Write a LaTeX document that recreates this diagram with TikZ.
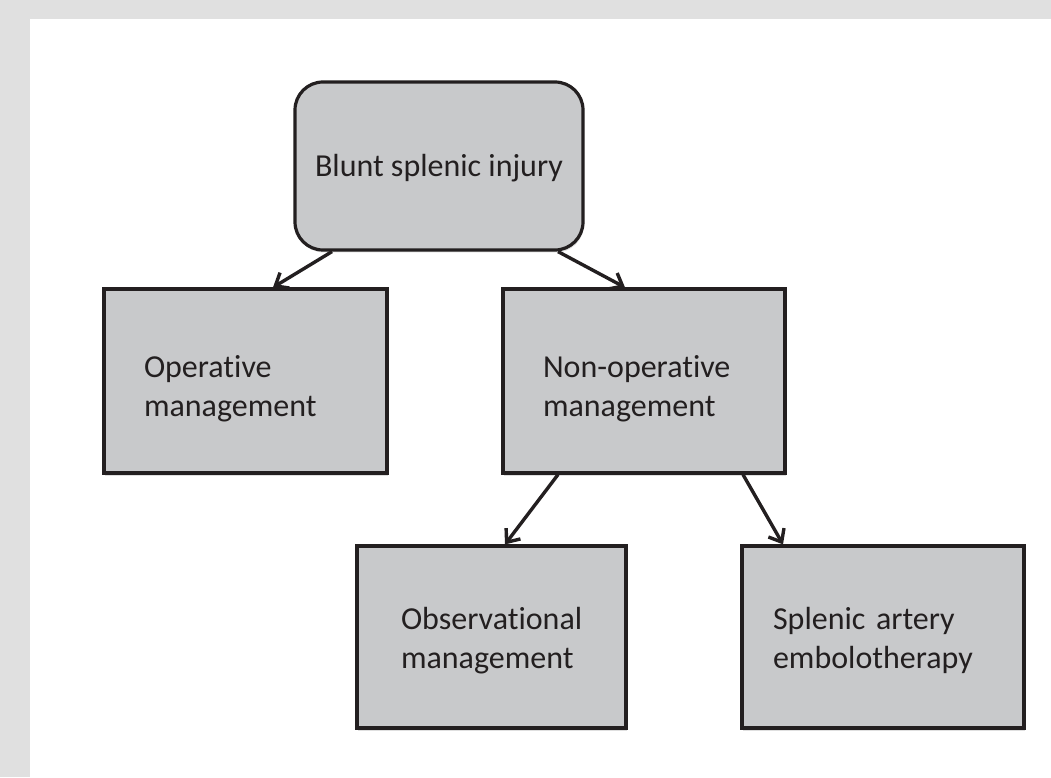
\documentclass[tikz,border=0pt]{standalone}
\usepackage{fontspec}
\setmainfont{Carlito}[Ligatures=NoCommon]
\usetikzlibrary{positioning,arrows.meta,shadows}
\definecolor{boxgray}{HTML}{C8C9CB}
\definecolor{edgeblack}{HTML}{231F20}
\definecolor{framegray}{HTML}{E0E0E0}
\tikzset{
    splbox/.style={draw=edgeblack, line width=3.2pt, fill=boxgray, align=left, inner xsep=0pt,
        font=\fontsize{32}{39}\selectfont, text=edgeblack,
        drop shadow={shadow xshift=1pt, shadow yshift=-2.5pt, opacity=0.25}},
    toprow/.style={text height=24pt, text depth=30pt},
    lowrow/.style={text height=9pt, text depth=24pt},
    splarrow/.style={line width=3.4pt, draw=edgeblack, -{Straight Barb[length=11pt,width=18pt]}}
}

\begin{document}
\begin{tikzpicture}[x=1pt,y=1pt]
    % Frame
    \fill[framegray] (0,0) rectangle (1051,777);
    \fill[white] (30,0) rectangle (1051,758);

    % Boxes
    \node[splbox, rounded corners=28pt, minimum width=288pt, minimum height=168pt, align=center,
        text height=30pt, text depth=8pt] (injury) at (439,611) {Blunt splenic injury};
    \node[splbox, toprow, minimum width=283pt, minimum height=184pt, text width=203pt] (operative) at (245.5,396) {Operative\\management};
    \node[splbox, toprow, minimum width=282pt, minimum height=184pt, text width=202pt] (nonop) at (644,396) {Non-operative\\management};
    \node[splbox, lowrow, minimum width=269pt, minimum height=182pt, text width=181pt] (observe) at (491.5,140) {Observational\\management};
    \node[splbox, lowrow, minimum width=282pt, minimum height=182pt, text width=220pt] (embolo) at (883,140) {Splenic artery\\embolotherapy};

    % Arrows
    \draw[splarrow] ([xshift=-107pt]injury.south) -- ([xshift=27.5pt]operative.north);
    \draw[splarrow] ([xshift=119pt]injury.south) -- ([xshift=-19pt]nonop.north);
    \draw[splarrow] ([xshift=-86pt]nonop.south) -- ([xshift=13.5pt]observe.north);
    \draw[splarrow] ([xshift=99pt]nonop.south) -- ([xshift=-100pt]embolo.north);
\end{tikzpicture}
\end{document}
